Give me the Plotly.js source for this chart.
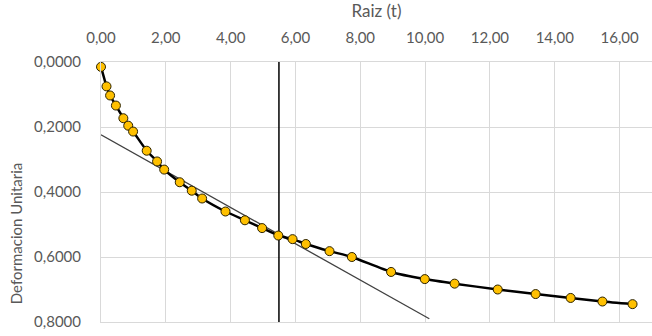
<!DOCTYPE html>
<html>
<head>
<meta charset="utf-8">
<script src="https://cdn.plot.ly/plotly-3.0.1.min.js"></script>
<style>html,body{margin:0;padding:0;background:#fff;}#chart{width:652px;height:336px;}</style>
</head>
<body>
<div id="chart"></div>
<script>
// Data
const raizT = [0.00, 0.17, 0.28, 0.46, 0.69, 0.84, 0.99, 1.41, 1.73, 1.95, 2.43, 2.80, 3.12, 3.84, 4.44, 4.97, 5.47, 5.91, 6.32, 7.05, 7.74, 8.95, 9.99, 10.91, 12.24, 13.41, 14.49, 15.47, 16.40];
const deformacion = [0.015, 0.075, 0.103, 0.134, 0.173, 0.196, 0.214, 0.273, 0.306, 0.331, 0.370, 0.396, 0.420, 0.460, 0.487, 0.511, 0.534, 0.545, 0.560, 0.582, 0.600, 0.646, 0.668, 0.682, 0.700, 0.714, 0.726, 0.737, 0.745];
const tangenteX = [0.00, 10.13];
const tangenteY = [0.224, 0.790];
const verticalX = [5.49, 5.49];
const verticalY = [0.0, 0.8];
const xTitle = "Raiz (t)";
const yTitle = "Deformacion Unitaria";

const font = "Lato, 'Open Sans', sans-serif";
const traces = [
  {x: tangenteX, y: tangenteY, type: 'scatter', mode: 'lines',
   line: {color: '#404040', width: 1.3}, hoverinfo: 'skip'},
  {x: verticalX, y: verticalY, type: 'scatter', mode: 'lines',
   line: {color: '#000000', width: 1.5}, hoverinfo: 'skip'},
  {x: raizT, y: deformacion, type: 'scatter', mode: 'lines+markers', cliponaxis: false,
   line: {color: '#000000', width: 2.5, shape: 'spline', smoothing: 0.5},
   marker: {color: '#FFC000', size: 9, line: {color: '#2b2200', width: 1}}}
];
const layout = {
  width: 652, height: 336,
  margin: {l: 101, r: 0, t: 62, b: 14},
  paper_bgcolor: '#ffffff', plot_bgcolor: '#ffffff',
  showlegend: false,
  separators: ',.',
  font: {family: font, color: '#595959', size: 15},
  xaxis: {
    side: 'top', range: [0, 17], dtick: 2, tick0: 0, tickformat: '.2f',
    showgrid: true, gridcolor: '#d9d9d9', gridwidth: 1,
    zeroline: false, showline: true, linecolor: '#d9d9d9', linewidth: 1, mirror: true,
    ticks: '', ticklabelstandoff: 12,
    tickfont: {family: font, size: 15, color: '#595959'},
    title: {text: xTitle, font: {family: font, size: 17, color: '#595959'}, standoff: 6}
  },
  yaxis: {
    range: [0.8, 0], dtick: 0.2, tick0: 0, tickformat: '.4f',
    showgrid: true, gridcolor: '#d9d9d9', gridwidth: 1,
    zeroline: false, showline: true, linecolor: '#d9d9d9', linewidth: 1,
    ticks: '', ticklabelstandoff: 16,
    tickfont: {family: font, size: 15, color: '#595959'}
  },
  annotations: [{
    text: yTitle, xref: 'paper', yref: 'paper', x: -0.155, y: 0.34,
    xanchor: 'center', yanchor: 'middle', textangle: -90, showarrow: false,
    font: {family: font, size: 15, color: '#595959'}
  }]
};
Plotly.newPlot('chart', traces, layout, {displayModeBar: false, staticPlot: true});
</script>
</body>
</html>
